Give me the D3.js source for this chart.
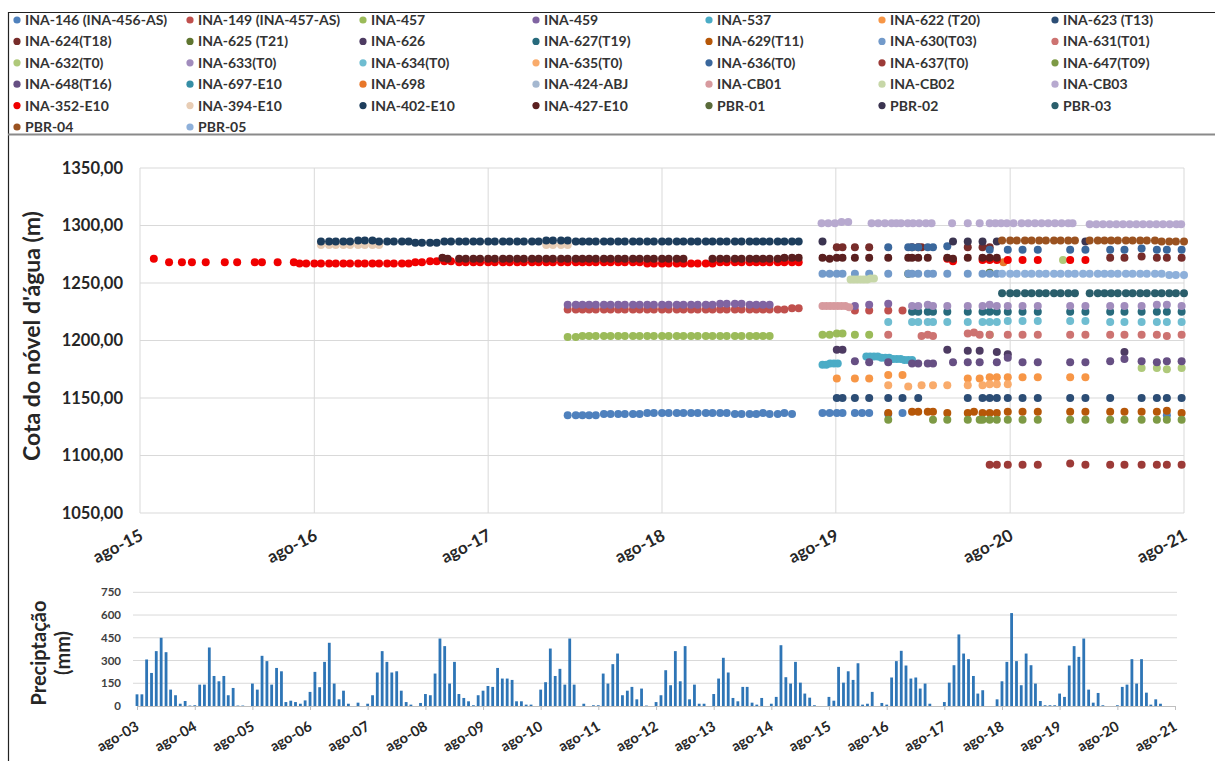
<!DOCTYPE html>
<html>
<head>
<meta charset="utf-8">
<script src="https://cdn.jsdelivr.net/npm/d3@7/dist/d3.min.js"></script>
<style>
body { margin: 0; background: #fff; }
text { font-family: Lato, "Open Sans", sans-serif; }
</style>
</head>
<body>
<svg width="1215" height="761"></svg>
<script>
var _ = null;

// ---- series (legend order = drawing order) ----
var seriesNames = ["INA-146 (INA-456-AS)","INA-149 (INA-457-AS)","INA-457","INA-459","INA-537","INA-622 (T20)","INA-623 (T13)",
	"INA-624(T18)","INA-625 (T21)","INA-626","INA-627(T19)","INA-629(T11)","INA-630(T03)","INA-631(T01)",
	"INA-632(T0)","INA-633(T0)","INA-634(T0)","INA-635(T0)","INA-636(T0)","INA-637(T0)","INA-647(T09)",
	"INA-648(T16)","INA-697-E10","INA-698","INA-424-ABJ","INA-CB01","INA-CB02","INA-CB03",
	"INA-352-E10","INA-394-E10","INA-402-E10","INA-427-E10","PBR-01","PBR-02","PBR-03",
	"PBR-04","PBR-05"];
var seriesColors = ["#4F81BD","#C0504D","#9BBB59","#8064A2","#4BACC6","#F79646","#2C4D75",
	"#772C2A","#5F7530","#4D3B62","#276A7C","#B65708","#729ACA","#CD7371",
	"#AFC97A","#A18CBD","#6FBDD1","#F9AB6B","#3A679C","#9C3A37","#7D9A45",
	"#664F83","#358EA5","#E8772A","#A5B8D0","#D79A9E","#C7D7A8","#B7A9CF",
	"#F00000","#E8CDB5","#1D3D5C","#5A1F1F","#5A6B3A","#3B3450","#2A5E6B",
	"#9A5220","#8EB0DA"];

// half-month readings 2016-07 .. 2019-05
var halfMonths1619 = ["16-07-01","16-07-15","16-08-01","16-08-15","16-09-01","16-09-15","16-10-01","16-10-15","16-11-01","16-11-15","16-12-01","16-12-15",
	"17-01-01","17-01-15","17-02-01","17-02-15","17-03-01","17-03-15","17-04-01","17-04-15","17-05-01","17-05-15","17-06-01","17-06-15",
	"17-07-01","17-07-15","17-08-01","17-08-15","17-09-01","17-09-15","17-10-01","17-10-15","17-11-01","17-11-15","17-12-01","17-12-15",
	"18-01-01","18-01-15","18-02-01","18-02-15","18-03-01","18-03-15","18-04-01","18-04-15","18-05-01","18-05-15","18-06-01","18-06-15",
	"18-07-01","18-07-15","18-08-01","18-08-15","18-09-01","18-09-15","18-10-01","18-10-15","18-11-01","18-11-15","18-12-01","18-12-15",
	"19-01-01","19-01-15","19-02-01","19-02-15","19-03-01","19-03-15","19-04-01","19-04-15","19-05-01","19-05-15"];
var dense352 = [1267,1267,1267,1267,1267,1267,1267,1267,1267,1267,1267,1267,
	1267,1267,1267,1267,1268,1268,1269,1269,1269,1269,1268,1268,1268,1268,1268,1268,1268,1268,1268,1268,1268,1268,1268,1268,
	1268,1268,1268,1268,1268,1268,1268,1268,1268,1268,1268,1268,1267,1267,1267,1267,1267,1267,1267,1267,1267,1267,1268,1268,
	1268,1268,1268,1268,1268,1268,1268,1268,1268,1268];
var dense394 = [_,_,_,1283,1283,1283,1283,1283,1283,1283,1283,1283,
	_,_,_,_,_,_,_,_,_,_,_,_,_,_,_,_,_,_,_,_,_,_,1283,1283,
	1283,1283,_,_,_,_,_,_,_,_,_,_,_,_,_,_,_,_,_,_,_,_,_,_,
	_,_,_,_,_,_,_,_,_,_];
var dense402 = [_,_,_,1286,1286,1286,1286,1286,1287,1287,1287,1286,
	1286,1286,1286,1286,1285,1285,1285,1285,1286,1286,1286,1286,1286,1286,1286,1286,1286,1286,1286,1286,1286,1286,1287,1287,
	1287,1287,1286,1286,1286,1286,1286,1286,1286,1286,1286,1286,1286,1286,1286,1286,1286,1286,1286,1286,1286,1286,1286,1286,
	1286,1286,1286,1286,1286,1286,1286,1286,1286,1286];
var dense427 = [_,_,_,_,_,_,_,_,_,_,_,_,
	_,_,_,_,_,_,_,_,_,_,1271,1271,1271,1271,1271,1271,1271,1271,1271,1271,1271,1271,1271,1271,
	1271,1271,1271,1271,1271,1271,1271,1271,1271,1271,1271,1271,1271,1271,1271,1271,1271,1271,_,_,_,1271,1271,1271,
	1271,1271,1271,1271,1271,1271,1271,1272,1272,1272];
var dense146 = [_,_,_,_,_,_,_,_,_,_,_,_,
	_,_,_,_,_,_,_,_,_,_,_,_,_,_,_,_,_,_,_,_,_,_,_,_,
	_,1135,1135,1135,1135,1135,1136,1136,1136,1136,1136,1136,1137,1137,1137,1137,1137,1137,1137,1137,1137,1137,1137,1137,
	1136,1136,1136,1136,1137,1136,1136,1137,1136,_];
var dense149 = [_,_,_,_,_,_,_,_,_,_,_,_,
	_,_,_,_,_,_,_,_,_,_,_,_,_,_,_,_,_,_,_,_,_,_,_,_,
	_,1227,1227,1227,1227,1227,1227,1227,1227,1227,1227,1227,1227,1227,1227,1227,1227,1227,1227,1227,1227,1227,1227,1227,
	1227,1227,1227,1227,1227,1227,1227,1227,1228,1228];
var dense457 = [_,_,_,_,_,_,_,_,_,_,_,_,
	_,_,_,_,_,_,_,_,_,_,_,_,_,_,_,_,_,_,_,_,_,_,_,_,
	_,1203,1203,1204,1204,1204,1204,1204,1204,1204,1204,1204,1204,1204,1204,1204,1204,1204,1204,1204,1204,1204,1204,1204,
	1204,1204,1204,1204,1204,1204,_,_,_,_];
var dense459 = [_,_,_,_,_,_,_,_,_,_,_,_,
	_,_,_,_,_,_,_,_,_,_,_,_,_,_,_,_,_,_,_,_,_,_,_,_,
	_,1231,1231,1231,1231,1231,1231,1231,1231,1231,1231,1231,1231,1231,1231,1231,1231,1231,1231,1231,1231,1231,1232,1232,
	1232,1232,1231,1231,1231,1231,_,_,_,_];

// survey campaigns 2019-07 .. 2021-07
var surveys1921 = ["19-07-04","19-07-19","19-08-03","19-08-15","19-09-10","19-10-10","19-11-19","19-12-19","19-12-31",
	"20-01-08","20-01-21","20-01-28","20-02-10","20-02-21","20-03-22","20-04-03","20-05-04","20-05-17","20-05-29",
	"20-06-04","20-06-19","20-07-04","20-07-27","20-08-27","20-09-28","20-12-05","21-01-06","21-02-27","21-03-29",
	"21-05-04","21-06-05","21-06-26","21-07-27"];
var s146 = [1137,1137,1137,1137,1137,1137,1136,1137,_,_,_,_,_,_,_,_,_,_,_,_,_,_,_,_,_,_,_,_,_,_,_,1135,_];
var s149 = [_,_,_,_,1226,1226,1226,1226,_,_,_,_,_,_,_,_,_,_,_,_,_,_,_,_,_,_,_,_,_,_,_,_,_];
var s457 = [1205,1205,1206,1206,1205,1205,_,_,_,_,_,_,_,_,_,_,_,_,_,_,1205,_,_,_,_,_,_,_,_,_,_,_,_];
var s459 = [_,_,_,_,1230,1231,1232,_,_,_,_,_,_,_,_,_,_,_,_,_,_,_,_,_,_,_,_,_,_,_,_,_,_];
var s622 = [_,_,1167,_,1167,1167,1170,1170,_,_,_,_,_,_,_,_,1167,_,1167,_,1168,1168,1168,1168,1168,1168,1168,_,_,_,_,_,_];
var s623 = [_,_,1150,1150,1150,1150,1150,1150,_,_,1150,_,_,_,_,_,1150,_,_,1150,1150,1150,1150,1150,1150,1150,1150,1150,_,1150,1150,1150,1150];
var s624 = [_,_,1281,1281,1281,1281,_,_,_,1281,1281,1281,_,_,_,_,1281,_,_,1281,1281,_,_,_,_,_,_,1272,1272,1273,1272,1272,1272];
var s625 = [_,_,_,_,_,_,_,_,1258,_,_,_,_,_,_,_,_,_,_,_,1259,_,_,_,_,_,_,_,_,_,_,_,_];
var s626 = [_,_,1192,1192,_,_,_,_,_,_,_,_,_,_,1192,_,1191,_,1191,_,_,1190,1188,_,_,_,_,_,1190,_,_,_,_];
var s627 = [_,_,_,_,_,_,_,_,_,1225,1225,_,1225,1225,1225,_,1225,_,_,1225,1225,1225,1225,1225,1225,1225,1225,1225,1225,1225,1225,1225,1225];
var s629 = [_,_,_,_,_,_,1137,_,_,1138,1138,_,1138,1138,1137,_,1137,1138,_,1137,1137,1137,1138,1138,1138,1138,1138,1138,1138,1138,1138,1139,1137];
var s630 = [1258,1258,1258,1258,1258,1258,1258,_,1258,1258,1258,_,1258,1258,1258,_,1258,_,_,1258,1258,1258,_,_,_,_,_,_,_,_,_,_,_];
var s631 = [_,_,_,_,_,_,1205,_,_,_,_,1204,1205,1204,_,_,1206,1207,1205,_,1205,_,1205,1205,1205,1205,1205,1205,1205,1205,1205,1204,1205];
var s632 = [_,_,_,_,_,_,_,_,_,_,_,_,_,_,_,_,_,_,_,_,_,_,_,_,_,_,_,_,_,1176,1176,1175,1176];
var s633 = [_,_,_,_,_,_,_,_,_,1230,1230,_,1231,1230,1230,_,1230,_,_,1230,1231,1230,1230,1230,1230,1230,1230,1230,1230,1230,1231,1231,1230];
var s634 = [_,_,_,_,_,_,1216,_,_,1216,1216,_,1216,1216,1216,_,1216,_,_,1216,1216,1216,1217,1217,1217,1217,1217,1216,1216,1216,1216,1216,1216];
var s635 = [_,_,_,_,_,_,1161,_,1160,_,_,1161,_,1161,1161,_,1161,_,_,1161,1162,1162,1162,_,_,_,_,_,_,_,_,_,_];
var s636 = [_,_,_,_,_,_,1281,_,1281,1281,1281,_,1281,1281,1282,_,_,_,_,_,1279,_,1279,1279,1279,1279,1279,1279,1279,1280,1279,1279,1279];
var s637 = [_,_,_,_,_,_,_,_,_,_,_,_,_,_,_,_,_,_,_,_,1092,1092,1092,1092,1092,1093,1092,1092,1092,1092,1092,1092,1092];
var s647 = [_,_,_,_,_,_,1131,_,_,_,_,_,_,1131,1131,_,1131,_,1131,1131,1131,1131,1131,1131,1131,1131,1131,1131,1131,1131,1131,1131,1131];
var s648 = [_,_,_,_,1182,1181,1181,_,_,1180,1180,_,1180,1180,_,1181,1181,_,1181,_,_,1181,1185,1181,1181,1181,1181,1182,1184,1182,1181,1182,1182];
var s352 = [_,_,_,_,_,_,_,_,_,_,_,_,_,_,1271,1269,_,_,_,1270,1270,1270,1270,1270,1270,1270,1270,_,_,_,_,_,_];
var s427 = [1272,1271,1272,1272,1272,1272,1272,_,1272,1272,1272,_,1272,_,1272,1271,1272,_,_,1272,1272,1272,_,_,_,_,_,_,_,_,_,_,_];
var sPbr02 = [1286,_,_,_,_,_,_,_,_,_,_,_,_,_,_,1286,1286,_,_,1286,_,1286,_,_,_,_,1286,_,_,_,_,_,_];

// half-month readings 2020-07 .. 2021-08
var halfMonths2021 = ["20-07-15","20-08-01","20-08-15","20-09-01","20-09-15","20-10-01","20-10-15","20-11-01","20-11-15","20-12-01","20-12-15",
	"21-01-01","21-01-15","21-02-01","21-02-15","21-03-01","21-03-15","21-04-01","21-04-15","21-05-01","21-05-15","21-06-01","21-06-15",
	"21-07-01","21-07-15","21-08-01"];
var densePbr03 = [1241,1241,1241,1241,1241,1241,1241,1241,1241,1241,1241,_,1241,1241,1241,1241,1241,1241,1241,1241,1241,1241,1241,1241,1241,1241];
var densePbr04 = [1287,1287,1287,1287,1287,1287,1287,1287,1287,1287,1287,_,1287,1287,1287,1287,1287,1287,1287,1287,1287,1287,1286,1286,1286,1286];
var densePbr05 = [1258,1258,1258,1258,1258,1258,1258,1258,1258,1258,1258,1258,1258,1258,1258,1258,1258,1258,1258,1258,1258,1258,1258,1257,1257,1257];

// single readings
var early352 = [["15-08-30",1271],["15-10-01",1268],["15-10-28",1268],["15-11-18",1268],["15-12-17",1268],["16-01-26",1268],
	["16-02-21",1268],["16-03-29",1268],["16-04-13",1268],["16-05-16",1268],["16-06-19",1268]];
var early427 = [["17-04-27",1272],["17-05-08",1271]];
var extra146 = [["19-09-25",1137]];
var extra537 = [["19-07-04",1179],["19-07-12",1179],["19-07-20",1180],["19-07-28",1180],["19-08-05",1180],["19-10-04",1186],
	["19-10-12",1186],["19-10-20",1186],["19-10-28",1186],["19-11-05",1185],["19-11-13",1185],["19-11-21",1185],["19-11-29",1184],
	["19-12-07",1184],["19-12-15",1184],["19-12-23",1183],["19-12-31",1183],["20-01-08",1183]];
var extra632 = [["20-11-20",1270]];
var extra698 = [["20-07-18",1268]];
var cb01 = [["19-07-04",1230],["19-07-12",1230],["19-07-20",1230],["19-07-28",1230],["19-08-05",1230],["19-08-13",1230],["19-08-21",1230],["19-08-29",1229]];
var cb02 = [["19-09-01",1253],["19-09-08",1253],["19-09-15",1253],["19-09-22",1253],["19-09-29",1253],["19-10-06",1253],["19-10-13",1254],["19-10-20",1254]];
var cb03 = [["19-07-02",1302],["19-07-16",1302],["19-07-30",1302],["19-08-13",1303],["19-08-27",1303],
	["19-10-15",1302],["19-10-29",1302],["19-11-12",1302],["19-11-26",1302],["19-12-06",1302],
	["19-12-16",1302],["19-12-30",1302],["20-01-10",1302],["20-01-23",1302],["20-02-06",1302],["20-02-18",1302],
	["20-04-01",1302],["20-05-04",1302],["20-05-29",1302],["20-06-19",1302],["20-07-01",1302],["20-07-13",1302],["20-07-25",1302],
	["20-08-08",1302],["20-08-25",1302],["20-09-08",1302],["20-09-22",1302],["20-10-06",1302],["20-10-20",1302],["20-11-03",1302],
	["20-11-17",1302],["20-12-01",1302],["20-12-10",1302],
	["21-01-15",1301],["21-01-29",1301],["21-02-12",1301],["21-02-26",1301],["21-03-12",1301],["21-03-26",1301],["21-04-09",1301],
	["21-04-23",1301],["21-05-07",1301],["21-05-21",1301],["21-06-04",1301],["21-06-18",1301],["21-07-02",1301],["21-07-16",1301],["21-07-26",1301]];

var levelTicks = [1050,1100,1150,1200,1250,1300,1350];
var levelTickDates = ["15-08-01","16-08-01","17-08-01","18-08-01","19-08-01","20-08-01","21-08-01"];

// ---- monthly precipitation (mm), Aug-2003 .. Jul-2021 ----
var precipStart = "03-08-01";
var precip = [
	77,77,307,218,362,450,355,108,71,15,33,3,
	5,141,141,386,198,163,198,71,119,3,3,0,
	148,108,331,296,141,251,229,26,35,26,15,37,
	93,225,124,291,417,148,44,101,15,0,22,0,
	15,71,221,362,291,221,229,101,26,9,0,20,
	79,71,214,445,395,148,291,79,53,31,5,71,
	101,132,126,251,181,181,172,31,31,9,9,0,
	108,157,379,198,245,141,445,141,0,15,0,5,
	5,214,148,276,346,71,101,126,44,115,3,0,
	26,71,236,137,362,163,395,44,141,15,15,0,
	79,181,318,221,53,31,126,126,22,9,53,0,
	15,60,401,190,148,291,154,82,55,5,0,0,
	60,35,258,154,229,172,282,9,15,93,0,20,
	9,188,296,364,267,181,188,115,148,15,0,0,
	26,154,269,472,346,309,198,82,104,0,0,44,
	163,291,613,296,137,346,269,148,33,5,5,5,
	82,60,267,395,324,445,108,22,86,5,0,0,
	5,126,141,309,148,309,88,9,44,15,0,0];
var precipTicks = [0,150,300,450,600,750];
var precipTickDates = ["03-08-01","04-08-01","05-08-01","06-08-01","07-08-01","08-08-01","09-08-01","10-08-01","11-08-01","12-08-01",
	"13-08-01","14-08-01","15-08-01","16-08-01","17-08-01","18-08-01","19-08-01","20-08-01","21-08-01"];

// ---- assemble points ----
var parse = d3.timeParse("%y-%m-%d");
var points = [];
seriesNames.forEach(function(n){ points.push([]); });
function put(name, dates, levels){
	var k = seriesNames.indexOf(name);
	dates.forEach(function(d, i){
		if (levels[i] != null) points[k].push({date: parse(d), level: levels[i], color: seriesColors[k]});
	});
}
function putPairs(name, pairs){
	put(name, pairs.map(function(p){return p[0]}), pairs.map(function(p){return p[1]}));
}
put("INA-352-E10", halfMonths1619, dense352);
put("INA-394-E10", halfMonths1619, dense394);
put("INA-402-E10", halfMonths1619, dense402);
put("INA-427-E10", halfMonths1619, dense427);
put("INA-146 (INA-456-AS)", halfMonths1619, dense146);
put("INA-149 (INA-457-AS)", halfMonths1619, dense149);
put("INA-457", halfMonths1619, dense457);
put("INA-459", halfMonths1619, dense459);
put("INA-146 (INA-456-AS)", surveys1921, s146);
put("INA-149 (INA-457-AS)", surveys1921, s149);
put("INA-457", surveys1921, s457);
put("INA-459", surveys1921, s459);
put("INA-622 (T20)", surveys1921, s622);
put("INA-623 (T13)", surveys1921, s623);
put("INA-624(T18)", surveys1921, s624);
put("INA-625 (T21)", surveys1921, s625);
put("INA-626", surveys1921, s626);
put("INA-627(T19)", surveys1921, s627);
put("INA-629(T11)", surveys1921, s629);
put("INA-630(T03)", surveys1921, s630);
put("INA-631(T01)", surveys1921, s631);
put("INA-632(T0)", surveys1921, s632);
put("INA-633(T0)", surveys1921, s633);
put("INA-634(T0)", surveys1921, s634);
put("INA-635(T0)", surveys1921, s635);
put("INA-636(T0)", surveys1921, s636);
put("INA-637(T0)", surveys1921, s637);
put("INA-647(T09)", surveys1921, s647);
put("INA-648(T16)", surveys1921, s648);
put("INA-352-E10", surveys1921, s352);
put("INA-427-E10", surveys1921, s427);
put("PBR-02", surveys1921, sPbr02);
put("PBR-03", halfMonths2021, densePbr03);
put("PBR-04", halfMonths2021, densePbr04);
put("PBR-05", halfMonths2021, densePbr05);
putPairs("INA-352-E10", early352);
putPairs("INA-427-E10", early427);
putPairs("INA-146 (INA-456-AS)", extra146);
putPairs("INA-537", extra537);
putPairs("INA-632(T0)", extra632);
putPairs("INA-698", extra698);
putPairs("INA-CB01", cb01);
putPairs("INA-CB02", cb02);
putPairs("INA-CB03", cb03);

var svg = d3.select("svg");
svg.append("rect").attr("width", 1215).attr("height", 761).attr("fill", "white");

// frame
svg.append("line").attr("x1", 8).attr("x2", 1215).attr("y1", 12.5).attr("y2", 12.5).attr("stroke", "#222").attr("stroke-width", 1);
svg.append("line").attr("x1", 8.5).attr("x2", 8.5).attr("y1", 12).attr("y2", 761).attr("stroke", "#222").attr("stroke-width", 1.2);
svg.append("line").attr("x1", 8).attr("x2", 1215).attr("y1", 134.5).attr("y2", 134.5).attr("stroke", "#8a8a8a").attr("stroke-width", 2);

// ---- legend ----
var legend = svg.append("g").selectAll("g").data(seriesNames).enter().append("g")
	.attr("transform", function(d, i){ return "translate(" + (17 + 173 * (i % 7)) + "," + (20 + 21.4 * Math.floor(i / 7)) + ")"; });
legend.append("circle").attr("r", 3.6).attr("fill", function(d, i){ return seriesColors[i]; });
legend.append("text").attr("x", 8).attr("dy", "0.36em").attr("font-size", 14).attr("font-weight", 700)
	.attr("fill", "#333").text(function(d){ return d; });

// ---- main chart ----
var x = d3.scaleTime().domain([parse("15-08-01"), parse("21-08-01")]).range([140, 1184]);
var y = d3.scaleLinear().domain([1050, 1350]).range([513, 168]);

svg.append("g").selectAll("line").data(levelTicks).enter().append("line")
	.attr("x1", 140).attr("x2", 1184).attr("y1", function(d){return y(d)}).attr("y2", function(d){return y(d)})
	.attr("stroke", "#d9d9d9");
svg.append("g").selectAll("line").data(levelTickDates).enter().append("line")
	.attr("x1", function(d){return x(parse(d))}).attr("x2", function(d){return x(parse(d))}).attr("y1", 168).attr("y2", 513)
	.attr("stroke", "#d9d9d9");

var yAxis = svg.append("g").attr("transform", "translate(140,0)")
	.call(d3.axisLeft(y).tickValues(levelTicks).tickSize(0).tickPadding(17)
		.tickFormat(function(d){ return d3.format(".2f")(d).replace(".", ","); }));
yAxis.select(".domain").remove();
yAxis.selectAll("text").attr("font-size", 16.5).attr("font-weight", 700).attr("fill", "#262626").style("font-family", "Lato");

var xAxis = svg.append("g").attr("transform", "translate(0,513)")
	.call(d3.axisBottom(x).tickValues(levelTickDates.map(parse)).tickSize(0)
		.tickFormat(function(d){ return "ago-" + d3.timeFormat("%y")(d); }));
xAxis.select(".domain").remove();
xAxis.selectAll("text").attr("y", 0).attr("dy", "0.35em").attr("transform", "translate(1,21) rotate(-27)")
	.style("text-anchor", "end").attr("font-size", 17).attr("font-weight", 700).attr("fill", "#262626").style("font-family", "Lato");

svg.append("text").attr("transform", "translate(40,336) rotate(-90)").attr("text-anchor", "middle")
	.attr("font-size", 23).attr("font-weight", 700).attr("fill", "#262626").text("Cota do nóvel d'água (m)");

var flat = [];
points.forEach(function(p){ flat = flat.concat(p); });
svg.append("g").selectAll("circle").data(flat).enter().append("circle")
	.attr("cx", function(d){return x(d.date)})
	.attr("cy", function(d){return y(d.level)})
	.attr("r", 4)
	.attr("fill", function(d){return d.color});

// ---- precipitation chart ----
var t0 = parse(precipStart);
var months = precip.map(function(v, i){ return d3.timeMonth.offset(t0, i); });
var xp = d3.scaleTime().domain([parse("03-08-01"), parse("21-08-01")]).range([137, 1175]);
var yp = d3.scaleLinear().domain([0, 750]).range([706, 592.3]);

svg.append("g").selectAll("line").data(precipTicks.slice(1)).enter().append("line")
	.attr("x1", 133).attr("x2", 1177).attr("y1", function(d){return yp(d)}).attr("y2", function(d){return yp(d)})
	.attr("stroke", "#d9d9d9");

var ypAxis = svg.append("g").attr("transform", "translate(133,0)")
	.call(d3.axisLeft(yp).tickValues(precipTicks).tickSize(0).tickPadding(12));
ypAxis.select(".domain").remove();
ypAxis.selectAll("text").attr("font-size", 11.5).attr("font-weight", 700).attr("fill", "#404040").style("font-family", "Lato");

svg.append("g").selectAll("rect").data(precip).enter().append("rect")
	.attr("x", function(d, i){ return xp(months[i]) - 1.4; })
	.attr("width", 2.8)
	.attr("y", function(d){ return yp(d); })
	.attr("height", function(d){ return 706 - yp(d); })
	.attr("fill", "#2E75B6");

var xpAxis = svg.append("g").attr("transform", "translate(0,706)")
	.call(d3.axisBottom(xp).tickValues(precipTickDates.map(parse)).tickSize(4).tickSizeOuter(0)
		.tickFormat(function(d){ return "ago-" + d3.timeFormat("%y")(d); }));
xpAxis.select(".domain").attr("stroke", "#bfbfbf");
xpAxis.selectAll("line").attr("stroke", "#bfbfbf");
xpAxis.selectAll("text").attr("y", 0).attr("dy", "0.35em").attr("transform", "translate(0,19) rotate(-30)")
	.style("text-anchor", "end").attr("font-size", 14.5).attr("font-weight", 700).attr("fill", "#262626").style("font-family", "Lato");

svg.append("text").attr("transform", "translate(46,653) rotate(-90)").attr("text-anchor", "middle")
	.attr("font-size", 20).attr("font-weight", 700).attr("fill", "#262626").text("Preciptação");
svg.append("text").attr("transform", "translate(70,653) rotate(-90)").attr("text-anchor", "middle")
	.attr("font-size", 20).attr("font-weight", 700).attr("fill", "#262626").text("(mm)");
</script>
</body>
</html>
